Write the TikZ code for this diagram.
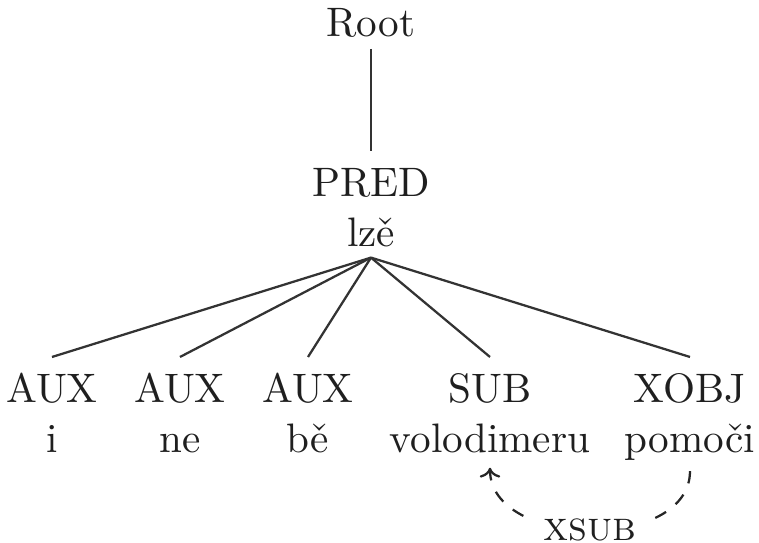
\documentclass[tikz,border=0pt]{standalone}
\usepackage{fontspec}
\usetikzlibrary{arrows.meta}
\begin{document}
\begin{tikzpicture}[x=0.243pt,y=-0.243pt,
  every node/.style={text=black!88},
  tnode/.style={align=center,inner xsep=0pt,inner ysep=2.5pt},
  edge/.style={line width=0.55pt,draw=black!80},
  rel/.style={dashed,-{To[length=2.4pt,width=5pt]},line width=0.55pt,draw=black!85}]
\useasboundingbox (0,0) rectangle (759,543);
\node[tnode,anchor=south] (root) at (371,49) {Root};
\node[tnode,anchor=north] (pred) at (371,151) {\rule{0pt}{8.4pt}PRED\\lzě};
\node[tnode,anchor=north] (aux1) at (52,357) {\rule{0pt}{8.4pt}AUX\\i};
\node[tnode,anchor=north] (aux2) at (180,357) {\rule{0pt}{8.4pt}AUX\\ne};
\node[tnode,anchor=north] (aux3) at (308,357) {\rule{0pt}{8.4pt}AUX\\bě};
\node[tnode,anchor=north] (sub) at (490,357) {\rule{0pt}{8.4pt}SUB\\volodimeru};
\node[tnode,anchor=north] (xobj) at (690,357) {\rule{0pt}{8.4pt}XOBJ\\pomoči};
\draw[edge] (root.south) -- (pred.north);
\foreach \c in {aux1,aux2,aux3,sub,xobj}
  \draw[edge] (pred.south) -- (\c.north);
\draw[rel] (xobj.south) .. controls +(0,81) and +(0,81) .. ([yshift=-1pt]sub.south)
  node[pos=0.5,fill=white,inner xsep=4pt,inner ysep=0.8pt] (lab) {\textsc{xsub}};
\end{tikzpicture}
\end{document}
